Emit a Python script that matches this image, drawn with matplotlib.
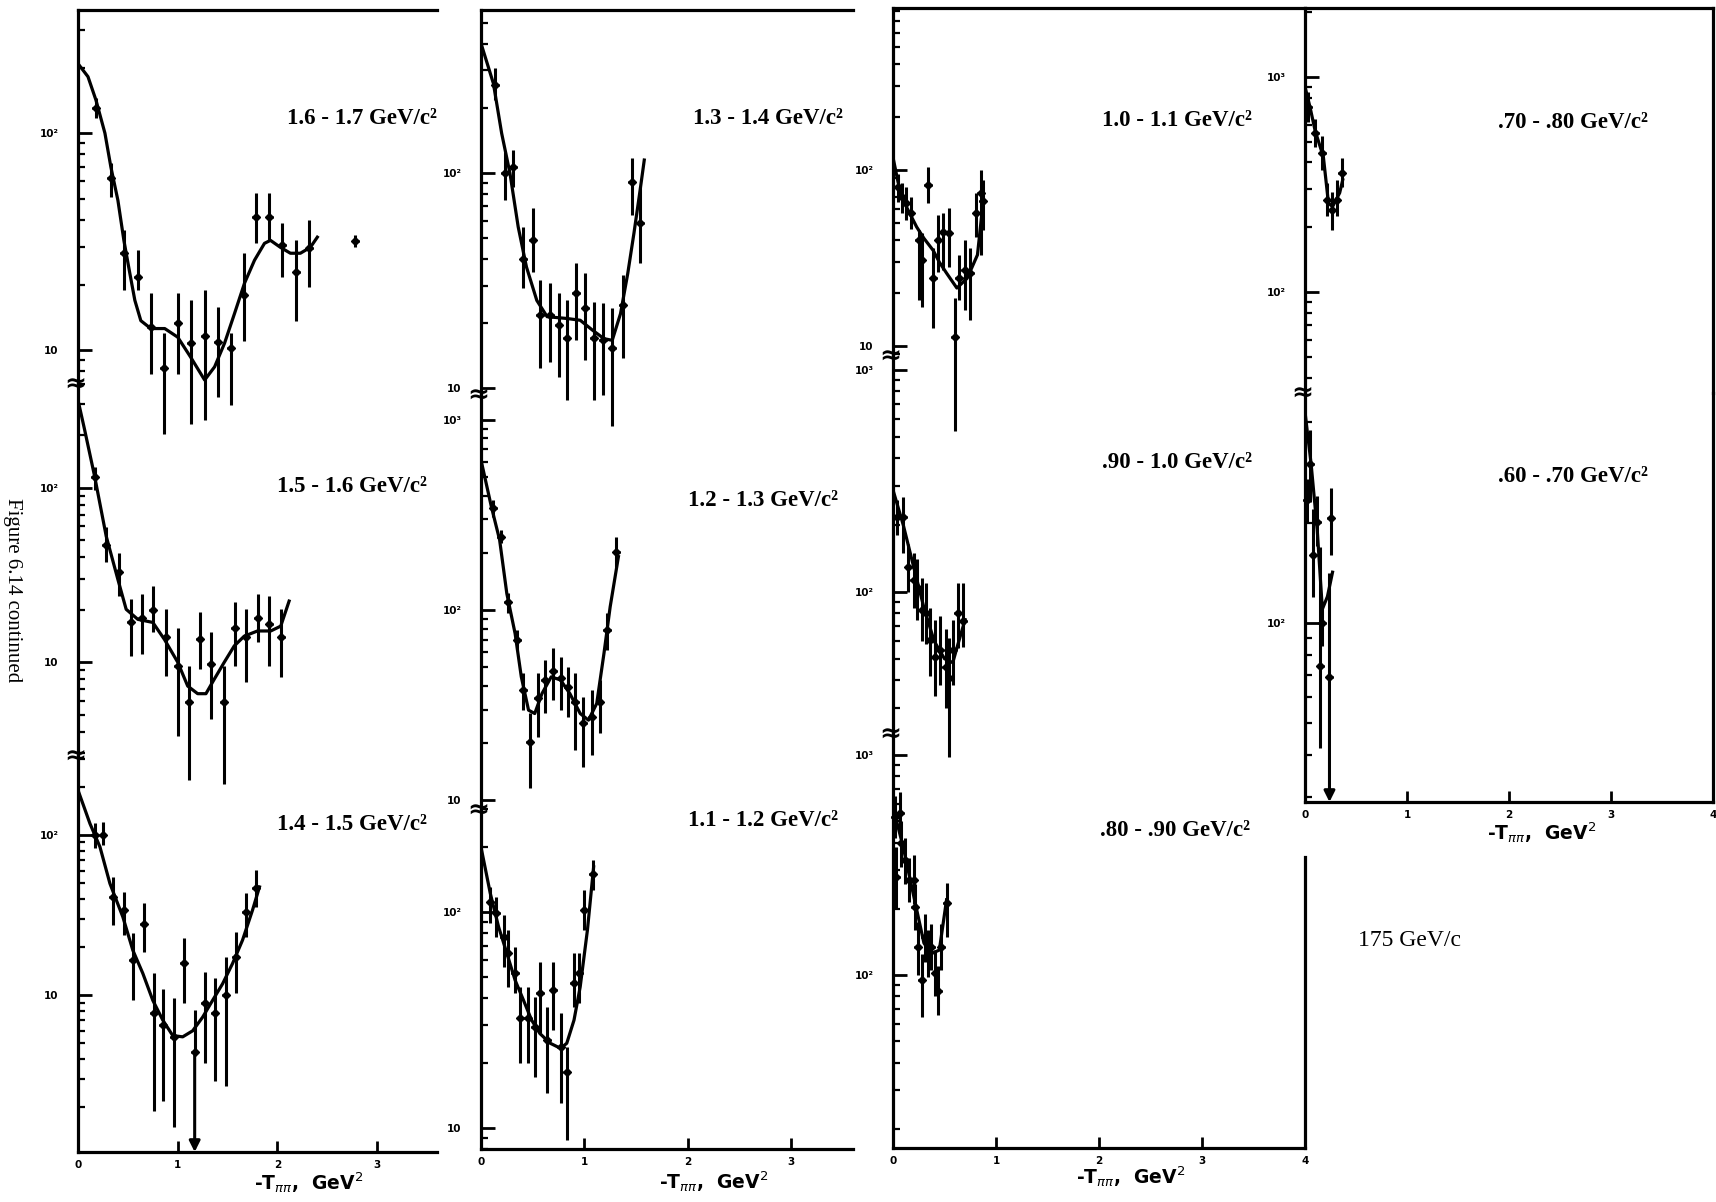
import numpy as np
import matplotlib
matplotlib.use("Agg")
import matplotlib.pyplot as plt
from matplotlib.lines import Line2D
from matplotlib.ticker import FixedLocator, FuncFormatter, LogLocator, NullFormatter

# ---------------- data ----------------
mass_labels = ["1.6 - 1.7 GeV/c²", "1.5 - 1.6 GeV/c²", "1.4 - 1.5 GeV/c²",
               "1.3 - 1.4 GeV/c²", "1.2 - 1.3 GeV/c²", "1.1 - 1.2 GeV/c²",
               "1.0 - 1.1 GeV/c²", ".90 - 1.0 GeV/c²", ".80 - .90 GeV/c²",
               ".70 - .80 GeV/c²", ".60 - .70 GeV/c²"]
beam_label = "175 GeV/c"
x_label = "-T$_{\\pi\\pi}$,  GeV$^{2}$"

# 1.6 - 1.7
m16_t = [0.18, 0.33, 0.46, 0.60, 0.73, 0.86, 1.00, 1.13, 1.27, 1.40, 1.53, 1.66, 1.78, 1.92, 2.05, 2.19, 2.32, 2.78]
m16_s = [130, 62, 28, 21.7, 12.8, 8.3, 13.3, 10.8, 11.7, 10.9, 10.2, 17.9, 41, 41, 30.5, 22.9, 29.5, 32]
m16_lo = [117, 50.7, 18.9, 18.9, 7.8, 4.1, 7.8, 4.6, 4.8, 6.1, 5.6, 11.1, 31.1, 32.1, 21.7, 13.7, 19.5, 30]
m16_hi = [145, 72.7, 35.7, 28.9, 18.3, 12.0, 18.3, 17.0, 18.9, 15.8, 12.0, 28.0, 52.9, 52.9, 38.5, 32.1, 39.8, 34]
m16_ct = [0, 0.10, 0.18, 0.27, 0.33, 0.40, 0.46, 0.52, 0.57, 0.63, 0.73, 0.87, 1.00, 1.13, 1.27, 1.37, 1.47, 1.57, 1.67, 1.77, 1.87, 1.93, 2.03, 2.13, 2.23, 2.33, 2.40]
m16_cs = [209, 182, 142, 100, 69.7, 49.1, 32.1, 22.6, 17.0, 13.7, 12.6, 12.6, 11.5, 9.3, 7.3, 8.4, 10.8, 14.8, 20.4, 26.0, 31.1, 32.1, 29.8, 28.0, 28.0, 29.8, 33.2]

# 1.5 - 1.6
m15_t = [0.17, 0.28, 0.41, 0.53, 0.64, 0.75, 0.88, 1.00, 1.11, 1.22, 1.33, 1.46, 1.57, 1.68, 1.80, 1.92, 2.04]
m15_s = [115, 47, 33, 17, 18, 20, 13.9, 9.5, 5.9, 13.5, 9.8, 5.9, 15.8, 13.9, 18, 16.5, 14]
m15_lo = [97, 37.3, 23.8, 10.8, 11.1, 14.9, 8.3, 3.8, 2.1, 9.1, 4.7, 2.0, 9.5, 7.7, 13.0, 9.5, 8.2]
m15_hi = [132, 59.8, 42.5, 22.9, 24.5, 27.2, 20.1, 15.8, 9.5, 19.3, 14.9, 9.5, 22.0, 20.1, 24.5, 23.8, 20.1]
m15_ct = [0, 0.067, 0.167, 0.283, 0.40, 0.483, 0.60, 0.75, 0.867, 1.00, 1.10, 1.20, 1.283, 1.367, 1.467, 1.567, 1.667, 1.80, 1.933, 2.033, 2.117]
m15_cs = [318, 214, 116, 52.7, 29.8, 20.1, 17.6, 16.9, 13.5, 10.0, 7.3, 6.6, 6.6, 8.0, 10.0, 12.4, 14.1, 15.1, 15.1, 16.1, 22.4]

# 1.4 - 1.5
m14_t = [0.17, 0.25, 0.35, 0.46, 0.55, 0.66, 0.76, 0.85, 0.96, 1.06, 1.27, 1.37, 1.48, 1.58, 1.68, 1.78]
m14_s = [100, 100, 41, 34, 16.6, 28, 7.7, 6.5, 5.5, 15.8, 8.9, 7.7, 10, 17.3, 33, 46.6]
m14_lo = [83, 86.6, 27.4, 23.7, 9.3, 18.6, 1.9, 2.2, 1.5, 8.9, 3.8, 2.9, 2.7, 10.4, 23.1, 35.5]
m14_hi = [119, 120, 54.6, 44, 24.4, 37.6, 13.7, 11.0, 9.6, 22.7, 13.9, 12.8, 17.3, 24.8, 43.4, 60.4]
m14_lim_t = [1.17]
m14_lim_s = [4.4]
m14_lim_hi = [8.1]
m14_ct = [0, 0.12, 0.22, 0.32, 0.45, 0.55, 0.65, 0.75, 0.85, 0.95, 1.05, 1.15, 1.25, 1.35, 1.45, 1.55, 1.65, 1.75, 1.82]
m14_cs = [191, 118, 84.5, 49.9, 30.8, 19.1, 13.7, 9.3, 7.0, 5.6, 5.5, 6.0, 7.3, 9.3, 11.8, 15.8, 22.1, 34.0, 47.5]

# 1.3 - 1.4
m13_t = [0.14, 0.23, 0.31, 0.41, 0.50, 0.57, 0.67, 0.75, 0.83, 0.92, 1.01, 1.09, 1.18, 1.27, 1.37, 1.46, 1.54]
m13_s = [257, 100, 107, 40, 49, 21.9, 21.9, 19.7, 17.1, 27.6, 23.5, 17.1, 16.8, 15.4, 24.3, 91, 58.5]
m13_lo = [218, 74.9, 86.1, 29.2, 34.6, 12.4, 13.2, 11.3, 8.8, 16.7, 13.5, 8.8, 9.3, 6.7, 13.8, 63.8, 38.1]
m13_hi = [308, 125, 128, 56.1, 68.7, 31.8, 30.8, 27.6, 25.7, 38.1, 34.3, 25.1, 24.9, 23.6, 33.5, 117, 86.1]
m13_ct = [0, 0.12, 0.20, 0.28, 0.36, 0.44, 0.54, 0.64, 0.83, 0.96, 1.08, 1.19, 1.27, 1.35, 1.42, 1.48, 1.54, 1.58]
m13_cs = [401, 261, 153, 100, 56.2, 36.6, 25.6, 21.5, 21.1, 20.7, 18.6, 17.0, 16.7, 22.2, 34.1, 52.5, 83.4, 115]

# 1.2 - 1.3
m12_t = [0.12, 0.19, 0.26, 0.35, 0.41, 0.47, 0.55, 0.62, 0.70, 0.77, 0.84, 0.91, 0.99, 1.07, 1.15, 1.22, 1.31]
m12_s = [344, 242, 110, 69.6, 38, 20.2, 34.5, 42.8, 48, 43.9, 39.3, 32.8, 25.4, 27.3, 32.8, 78.5, 202]
m12_lo = [309, 225, 96, 61.6, 29.8, 11.6, 21.4, 28.7, 33.6, 29.8, 27.3, 18.3, 14.9, 17.3, 22.5, 61.6, 168]
m12_hi = [379, 263, 123, 78.5, 46.6, 28.7, 46.6, 54.6, 63.1, 56.6, 50.1, 46.6, 34.9, 37.9, 42.8, 96.4, 242]
m12_ct = [0, 0.10, 0.18, 0.25, 0.33, 0.39, 0.46, 0.52, 0.59, 0.68, 0.77, 0.86, 0.96, 1.04, 1.12, 1.19, 1.25, 1.33]
m12_cs = [615, 350, 234, 122, 75.3, 44.6, 29.8, 28.6, 36.4, 44.6, 42.9, 36.4, 28.6, 26.4, 32.3, 59.2, 104, 191]

# 1.1 - 1.2
m11_t = [0.09, 0.15, 0.22, 0.26, 0.33, 0.38, 0.45, 0.52, 0.57, 0.64, 0.70, 0.77, 0.83, 0.90, 0.95, 1.00, 1.08]
m11_s = [111, 99, 76.6, 64.5, 52, 32.3, 32.3, 29.3, 42, 25.5, 43.5, 23.7, 18.2, 46.9, 52, 102, 150]
m11_lo = [88.9, 76.6, 55.6, 44.9, 42.2, 20.0, 20.0, 17.2, 27.5, 14.5, 28.4, 13.1, 8.8, 36.3, 37.9, 82.5, 126]
m11_hi = [131, 117, 96.9, 82.5, 68.9, 44.9, 44.9, 40.4, 58.7, 36.3, 58.7, 34.1, 23.7, 64.6, 64.6, 126, 174]
m11_ct = [0, 0.09, 0.17, 0.25, 0.33, 0.41, 0.49, 0.57, 0.67, 0.77, 0.83, 0.90, 0.96, 1.03, 1.09]
m11_cs = [200, 122, 85.5, 64.5, 48.4, 39.2, 31.6, 27.4, 24.7, 23.4, 24.7, 31.6, 45.1, 82.6, 162]

# 1.0 - 1.1
m10_t = [0.05, 0.09, 0.13, 0.17, 0.25, 0.28, 0.34, 0.39, 0.44, 0.49, 0.54, 0.60, 0.64, 0.70, 0.75, 0.81, 0.85, 0.87]
m10_s = [80, 70, 65, 57, 40, 30.7, 82, 24.3, 40, 44.5, 44, 11.3, 24.3, 27, 26, 57, 74, 67]
m10_lo = [66, 57, 52, 46, 18.3, 16.6, 65, 12.7, 26.4, 27.1, 28.1, 3.3, 18.3, 16.1, 14.1, 41.7, 32.9, 45.6]
m10_hi = [95, 84, 80, 70, 45.6, 43.8, 104, 36.0, 55.5, 57.0, 60.9, 18.9, 32.9, 40.0, 36.0, 74.0, 100, 87.7]
m10_ct = [0, 0.05, 0.10, 0.23, 0.30, 0.39, 0.45, 0.52, 0.62, 0.72, 0.82, 0.87]
m10_cs = [118, 85, 67, 47.5, 41, 35, 30, 26, 21.4, 24.3, 33, 62]

# .90 - 1.0
m09_t = [0.04, 0.10, 0.15, 0.20, 0.23, 0.28, 0.32, 0.36, 0.41, 0.46, 0.51, 0.54, 0.58, 0.63, 0.68]
m09_s = [218, 218, 130, 113, 105, 83, 80, 61, 51, 55, 46, 41, 55, 80, 74]
m09_lo = [180, 150, 100, 85, 75, 60, 58, 42, 34, 38, 30, 18.1, 38, 56, 56.5]
m09_hi = [260, 268, 165, 150, 140, 115, 110, 85, 75, 78, 68, 62, 75, 110, 110]
m09_ct = [0, 0.10, 0.20, 0.30, 0.40, 0.50, 0.58, 0.63, 0.70]
m09_cs = [288, 200, 130, 85, 60, 50, 48, 58, 75]

# .80 - .90
m08_t = [0.02, 0.03, 0.07, 0.08, 0.12, 0.16, 0.20, 0.21, 0.24, 0.28, 0.31, 0.34, 0.37, 0.41, 0.44, 0.47, 0.52]
m08_s = [522, 279, 545, 398, 333, 270, 270, 204, 134, 95, 149, 126, 134, 102, 85, 134, 212]
m08_lo = [420, 200, 440, 310, 260, 215, 210, 160, 100, 64.5, 115, 98, 105, 80, 66, 105, 149]
m08_hi = [650, 380, 680, 500, 420, 340, 350, 260, 175, 125, 190, 160, 170, 130, 110, 170, 262]
m08_ct = [0, 0.10, 0.20, 0.30, 0.37, 0.45, 0.52]
m08_cs = [580, 380, 230, 140, 125, 130, 220]

# .70 - .80
m07_t = [0.03, 0.10, 0.17, 0.22, 0.26, 0.31, 0.36]
m07_s = [725, 550, 443, 268, 240, 268, 357]
m07_lo = [620, 470, 370, 225, 194, 225, 308]
m07_hi = [850, 640, 530, 320, 290, 330, 420]
m07_ct = [0, 0.05, 0.10, 0.18, 0.23, 0.27, 0.34, 0.37]
m07_cs = [899, 720, 560, 425, 259, 249, 289, 332]

# .60 - .70
m06_t = [0.02, 0.05, 0.08, 0.12, 0.15, 0.17, 0.25]
m06_s = [234, 300, 160, 201, 74, 100, 207]
m06_lo = [200, 230, 120, 170, 42.1, 85, 160]
m06_hi = [270, 380, 220, 240, 169, 115, 254]
m06_lim_t = [0.24]
m06_lim_s = [69]
m06_lim_hi = [141]
m06_ct = [0, 0.06, 0.12, 0.17, 0.22, 0.27]
m06_cs = [430, 300, 190, 110, 120, 142]

# ---------------- layout ----------------
W, H = 1716, 1202
fig = plt.figure(figsize=(W / 100, H / 100), dpi=100)
fig.patch.set_facecolor("white")


def rect(x0, y0, x1, y1):
    return [x0 / W, 1 - y1 / H, (x1 - x0) / W, (y1 - y0) / H]


def fx(px):
    return px / W


def fy(py):
    return 1 - py / H


dec_names = {10: "10", 100: "10²", 1000: "10³"}

panels = [
    # label idx, data, box (x0,y0,x1,y1) in px, ylim, xmax, top, bottom, right, label pos
    (0, (m16_t, m16_s, m16_lo, m16_hi, m16_ct, m16_cs), (78, 10, 437, 384), (7.0, 369), 3.6, True, False, False, (437, 118)),
    (1, (m15_t, m15_s, m15_lo, m15_hi, m15_ct, m15_cs), (78, 384, 437, 756), (2.9, 393), 3.6, False, False, False, (427, 487)),
    (2, (m14_t, m14_s, m14_lo, m14_hi, m14_ct, m14_cs), (78, 756, 437, 1152), (1.05, 312), 3.6, False, True, False, (427, 825)),
    (3, (m13_t, m13_s, m13_lo, m13_hi, m13_ct, m13_cs), (481, 10, 853, 395), (9.3, 573), 3.6, True, False, False, (843, 118)),
    (4, (m12_t, m12_s, m12_lo, m12_hi, m12_ct, m12_cs), (481, 395, 853, 810), (8.9, 1350), 3.6, False, False, False, (838, 500)),
    (5, (m11_t, m11_s, m11_lo, m11_hi, m11_ct, m11_cs), (481, 810, 853, 1149), (8.0, 297), 3.6, False, True, False, (838, 820)),
    (6, (m10_t, m10_s, m10_lo, m10_hi, m10_ct, m10_cs), (893, 8, 1305, 356), (8.8, 832), 4.0, True, False, False, (1252, 120)),
    (7, (m09_t, m09_s, m09_lo, m09_hi, m09_ct, m09_cs), (893, 356, 1305, 734), (22.9, 1156), 4.0, False, False, False, (1252, 462)),
    (8, (m08_t, m08_s, m08_lo, m08_hi, m08_ct, m08_cs), (893, 734, 1305, 1148), (16.4, 1245), 4.0, False, True, False, (1250, 830)),
    (9, (m07_t, m07_s, m07_lo, m07_hi, m07_ct, m07_cs), (1305, 8, 1713, 393), (33.9, 2090), 4.0, True, False, True, (1648, 122)),
    (10, (m06_t, m06_s, m06_lo, m06_hi, m06_ct, m06_cs), (1305, 393, 1713, 802), (29, 490), 4.0, False, True, True, (1648, 477)),
]

limits = {2: (m14_lim_t, m14_lim_s, m14_lim_hi), 10: (m06_lim_t, m06_lim_s, m06_lim_hi)}

SPW = 2.3
for idx, data, box, ylim, xmax, top, bottom, right, lpos in panels:
    t, s, lo, hi, ct, cs = data
    ax = fig.add_axes(rect(*box))
    ax.set_yscale("log")
    ax.set_xlim(0, xmax)
    ax.set_ylim(*ylim)
    ax.patch.set_alpha(0)
    for side, vis in (("top", top), ("bottom", bottom), ("right", right), ("left", True)):
        ax.spines[side].set_visible(vis)
        ax.spines[side].set_linewidth(SPW)

    s_a = np.array(s, float)
    yerr = [s_a - np.array(lo, float), np.array(hi, float) - s_a]
    cont = ax.errorbar(t, s_a, yerr=yerr, xerr=0.035, fmt="D", ms=4.5, mfc="k", mec="k",
                       ecolor="k", elinewidth=2.2, capsize=0, color="k")
    for ch in cont.get_children():
        ch.set_clip_on(False)
    ax.plot(ct, cs, "-", color="k", lw=2.3)

    if idx in limits:
        lt, ls, lh = limits[idx]
        c2 = ax.errorbar(lt, ls, yerr=[[0] * len(ls), np.array(lh) - np.array(ls)], xerr=0.035, fmt="D",
                         ms=4.5, color="k", elinewidth=2.2, capsize=0)
        for ch in c2.get_children():
            ch.set_clip_on(False)
        for xx, yy in zip(lt, ls):
            ax.annotate("", xy=(xx, ylim[0]), xytext=(xx, yy),
                        arrowprops=dict(arrowstyle="-|>", color="k", lw=2.2, mutation_scale=16,
                                        shrinkA=0, shrinkB=0))

    # y ticks
    decs = [d for d in (10, 100, 1000) if ylim[0] <= d <= ylim[1]]
    ax.yaxis.set_major_locator(FixedLocator(decs))
    ax.yaxis.set_major_formatter(FuncFormatter(lambda v, p: dec_names.get(int(round(v)), "")))
    ax.yaxis.set_minor_locator(LogLocator(base=10, subs=np.arange(2, 10), numticks=20))
    ax.yaxis.set_minor_formatter(NullFormatter())
    ax.tick_params(axis="y", which="major", direction="in", length=10, width=2.0,
                   labelsize=7.5, pad=14, right=False)
    ax.tick_params(axis="y", which="minor", direction="in", length=5, width=1.6, right=False)
    for lab in ax.get_yticklabels():
        lab.set_fontweight("bold")

    # x ticks
    if bottom:
        ax.set_xticks(np.arange(0, int(xmax) + 1))
        ax.set_xticklabels([str(v) for v in range(int(xmax) + 1)], fontsize=7.5, fontweight="bold")
        ax.tick_params(axis="x", which="major", direction="in", length=8, width=2.0, pad=6, top=False)
        ax.tick_params(axis="x", which="minor", bottom=False, top=False)
    else:
        ax.tick_params(axis="x", which="both", bottom=False, top=False, labelbottom=False)

    fig.text(fx(lpos[0]), fy(lpos[1]), mass_labels[idx], ha="right", va="center",
             fontsize=16.5, fontweight="bold", family="Liberation Serif")

# break marks on the y axes between stacked panels
breaks = [(78, 384), (78, 756), (481, 395), (481, 810), (893, 356), (893, 734), (1305, 393)]
for bx, by in breaks:
    fig.text(fx(bx - 3), fy(by), "≈", ha="center", va="center", fontsize=19, fontweight="bold",
             color="k")

# x-axis titles
for cx_, cy_ in ((309, 1183), (714, 1182), (1131, 1177), (1542, 833)):
    fig.text(fx(cx_), fy(cy_), x_label, ha="center", va="center", fontsize=13.5, fontweight="bold")

# right edge of column 3 lower region
fig.add_artist(Line2D([fx(1305), fx(1305)], [fy(857), fy(1148)], color="k", lw=SPW))

fig.text(fx(1358), fy(940), beam_label, ha="left", va="center", fontsize=17,
         family="Liberation Serif")
fig.text(fx(12), fy(590), "Figure 6.14 continued", ha="center", va="center", rotation=270,
         fontsize=15, family="Liberation Serif")

fig.savefig("out.png", dpi=100, facecolor="white")
